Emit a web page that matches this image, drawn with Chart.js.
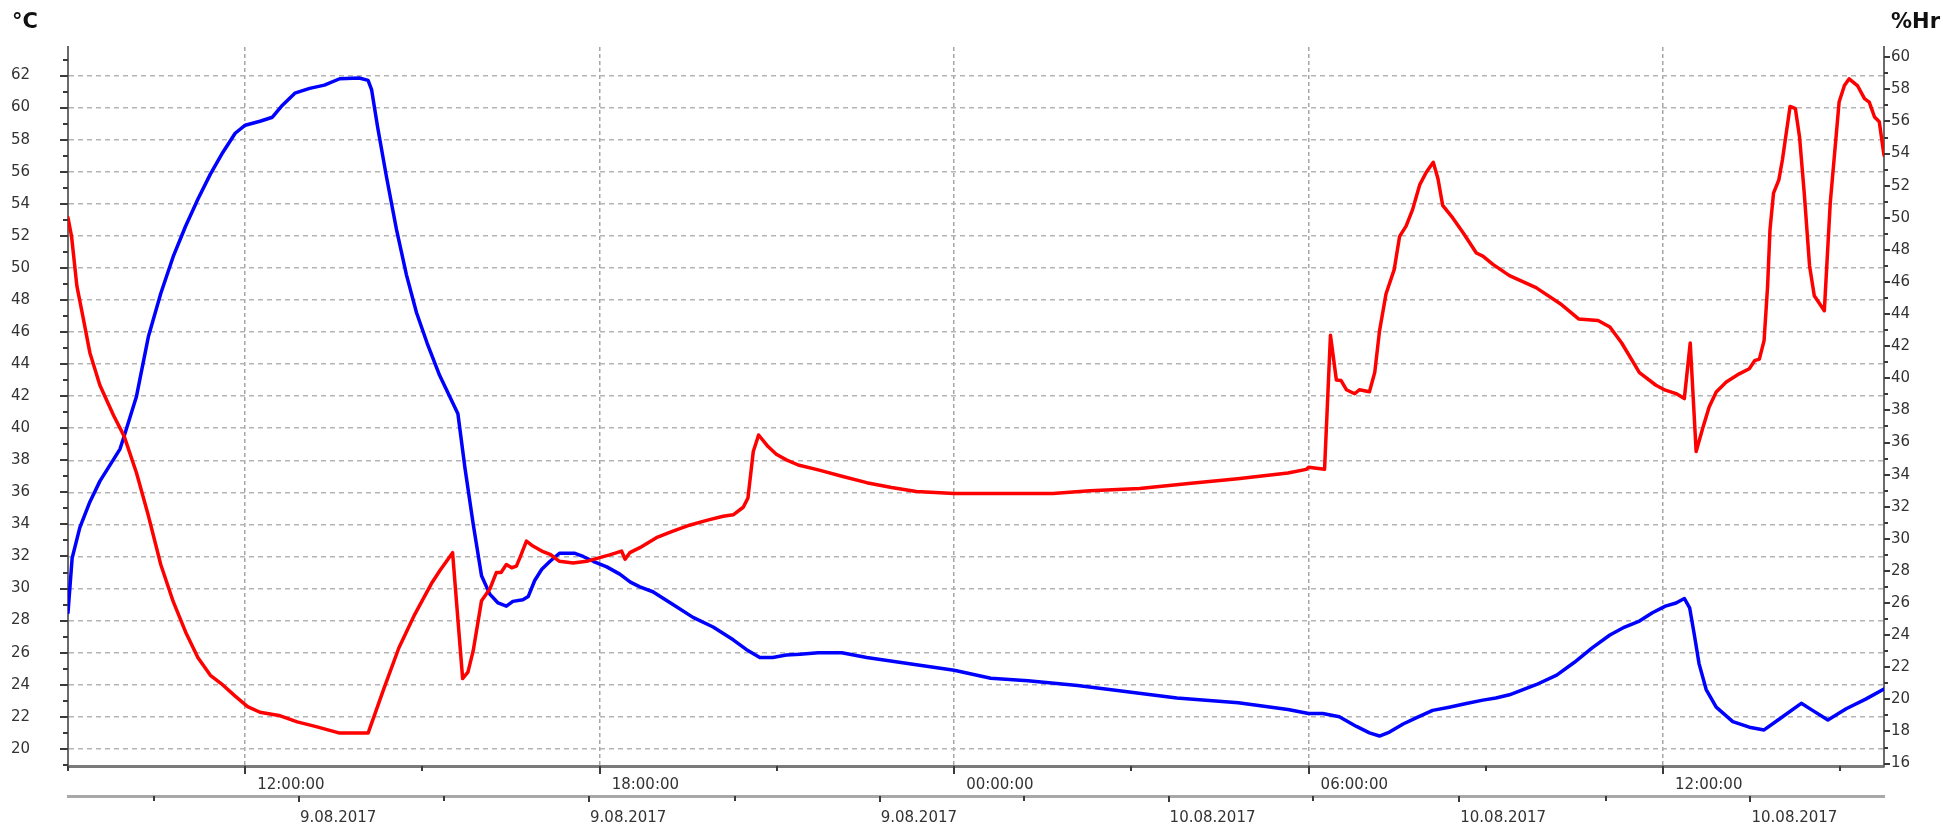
<!DOCTYPE html>
<html><head><meta charset="utf-8">
<script src="https://cdn.jsdelivr.net/npm/chart.js@4.4.1/dist/chart.umd.min.js"></script>
<style>html,body{margin:0;padding:0;background:#fff;overflow:hidden}canvas{display:block}</style>
</head><body>
<canvas id="c" width="1943" height="825"></canvas>
<script>
// Time in hours since 9.08.2017 00:00
const tempHours = [9.0,9.07,9.2,9.37,9.54,9.71,9.88,9.95,10.16,10.36,10.57,10.78,10.99,11.2,11.41,11.62,11.83,12.0,12.25,12.46,12.63,12.84,13.09,13.34,13.6,13.93,14.08,14.14,14.24,14.39,14.56,14.73,14.9,15.08,15.29,15.6,15.72,15.86,16.0,16.14,16.28,16.42,16.53,16.7,16.79,16.9,17.02,17.16,17.32,17.58,17.72,17.89,18.12,18.34,18.52,18.68,18.9,19.24,19.58,19.92,20.26,20.48,20.71,20.93,21.16,21.39,21.7,22.1,22.52,23.36,24.0,24.62,25.25,26.09,26.93,27.77,28.81,29.65,30.0,30.24,30.52,30.81,31.03,31.2,31.37,31.6,31.82,32.1,32.38,32.67,32.95,33.17,33.4,33.85,34.2,34.5,34.8,35.1,35.35,35.6,35.82,36.04,36.22,36.36,36.45,36.53,36.61,36.73,36.9,37.18,37.46,37.71,37.97,38.34,38.53,38.79,39.1,39.43,39.74];
const tempValues = [28.5,31.9,33.8,35.4,36.7,37.7,38.7,39.5,42.0,45.7,48.4,50.7,52.6,54.3,55.85,57.2,58.4,58.9,59.15,59.4,60.15,60.9,61.2,61.4,61.8,61.85,61.7,61.1,58.8,55.7,52.4,49.55,47.2,45.3,43.3,40.9,37.5,34.0,30.8,29.65,29.1,28.9,29.2,29.3,29.5,30.5,31.2,31.7,32.2,32.2,32.0,31.7,31.35,30.9,30.4,30.1,29.8,29.0,28.2,27.6,26.8,26.2,25.7,25.7,25.85,25.9,26.0,26.0,25.7,25.25,24.9,24.4,24.25,23.95,23.56,23.17,22.87,22.45,22.2,22.2,22.0,21.4,21.0,20.8,21.05,21.55,21.93,22.4,22.6,22.83,23.04,23.17,23.37,24.0,24.6,25.4,26.3,27.1,27.6,27.97,28.49,28.9,29.1,29.38,28.8,27.1,25.3,23.7,22.6,21.7,21.35,21.18,21.86,22.84,22.4,21.8,22.5,23.1,23.73];
const humHours = [9.0,9.06,9.15,9.26,9.37,9.54,9.77,9.95,10.16,10.36,10.57,10.78,10.99,11.2,11.41,11.62,11.83,12.04,12.25,12.57,12.88,13.2,13.4,13.6,14.08,14.35,14.6,14.87,15.15,15.29,15.51,15.68,15.77,15.86,16.0,16.14,16.25,16.33,16.42,16.51,16.59,16.65,16.76,16.87,17.02,17.16,17.32,17.55,17.78,18.0,18.17,18.37,18.43,18.51,18.68,18.96,19.24,19.52,19.81,20.09,20.26,20.43,20.51,20.6,20.69,20.85,20.99,21.16,21.36,21.7,22.1,22.52,22.94,23.36,24.0,25.67,26.3,27.14,27.97,28.8,29.65,29.96,30.0,30.27,30.37,30.47,30.55,30.64,30.78,30.86,31.03,31.12,31.2,31.31,31.45,31.54,31.65,31.76,31.88,31.99,32.11,32.19,32.27,32.44,32.61,32.84,32.95,33.12,33.4,33.85,34.26,34.57,34.9,35.1,35.3,35.6,35.88,36.04,36.22,36.36,36.46,36.56,36.67,36.78,36.9,37.07,37.29,37.46,37.55,37.63,37.71,37.77,37.81,37.87,37.96,38.02,38.15,38.24,38.31,38.39,38.48,38.56,38.73,38.83,38.98,39.07,39.15,39.29,39.41,39.49,39.58,39.66,39.74];
const humValues = [50.0,48.85,45.76,43.7,41.6,39.57,37.7,36.4,34.1,31.45,28.4,26.1,24.2,22.6,21.5,20.9,20.2,19.55,19.2,19.0,18.6,18.3,18.1,17.9,17.9,20.7,23.2,25.3,27.2,28.0,29.14,21.3,21.7,23.05,26.15,26.87,27.9,27.9,28.4,28.2,28.3,28.83,29.86,29.55,29.24,29.04,28.6,28.5,28.6,28.83,29.0,29.24,28.73,29.14,29.45,30.07,30.48,30.85,31.15,31.41,31.5,31.97,32.55,35.44,36.47,35.75,35.27,34.92,34.6,34.3,33.9,33.5,33.2,32.95,32.83,32.83,33.0,33.14,33.45,33.75,34.1,34.33,34.46,34.33,42.68,39.9,39.86,39.29,39.04,39.29,39.16,40.37,42.94,45.25,46.79,48.84,49.48,50.51,52.05,52.82,53.46,52.43,50.77,49.99,49.1,47.81,47.61,47.1,46.4,45.65,44.65,43.7,43.6,43.2,42.2,40.35,39.57,39.26,39.05,38.74,42.2,35.44,36.88,38.22,39.15,39.77,40.28,40.6,41.1,41.2,42.35,45.76,49.26,51.54,52.36,53.6,56.94,56.8,55.05,51.54,47.0,45.14,44.21,50.92,57.21,58.24,58.66,58.24,57.42,57.21,56.28,55.98,53.9];
const timeTickHours = [9,12,15,18,21,24,27,30,33,36,39];
const dateTickHours = [12.91,17.82,22.74,27.63,32.55,37.48];
const dateMinorHours = [10.46,15.36,20.29,25.18,30.08,35.04];
const dateTickLabels = ['9.08.2017','9.08.2017','9.08.2017','10.08.2017','10.08.2017','10.08.2017'];
const tempTickValues = Array.from({length: 45}, (_, i) => 19 + i);   // 19..63
const humTickValues = Array.from({length: 45}, (_, i) => 16 + i);    // 16..60
const tempTitle = '°C';
const humTitle = '%Hr';

const X_MIN = 9, X_MAX = 39.74;
const FONT = 'DejaVu Sans';

const tickMarks = {
  id: 'tickMarks',
  afterDraw(chart) {
    const {ctx, scales} = chart;
    ctx.save();
    ctx.lineWidth = 2;
    ctx.strokeStyle = '#3a3a3a';
    const seg = (x1, y1, x2, y2) => { ctx.beginPath(); ctx.moveTo(x1, y1); ctx.lineTo(x2, y2); ctx.stroke(); };
    const y = scales.y, y2 = scales.y2, x = scales.x, x2 = scales.x2;
    y.ticks.forEach(t => { const p = Math.round(y.getPixelForValue(t.value)); const L = t.value % 2 === 0 ? 8 : 5; seg(y.right - L, p, y.right, p); });
    y2.ticks.forEach(t => { const p = Math.round(y2.getPixelForValue(t.value)); const L = t.value % 2 === 0 ? 6 : 4; seg(y2.left, p, y2.left + L, p); });
    x.ticks.forEach(t => { const p = Math.round(x.getPixelForValue(t.value)); const L = t.value % 6 === 0 ? 8 : 5; seg(p, x.top, p, x.top + L); });
    x2.ticks.forEach(t => { const p = Math.round(x2.getPixelForValue(t.value)); const L = dateTickHours.includes(t.value) ? 6 : 5; seg(p, x2.top, p, x2.top + L); });
    ctx.fillStyle = '#111';
    ctx.font = 'bold 21px "' + FONT + '"';
    ctx.textBaseline = 'alphabetic';
    ctx.textAlign = 'left';
    ctx.fillText(tempTitle, y.left + 12, 28);
    ctx.textAlign = 'right';
    ctx.fillText(humTitle, y2.right - 3, 28);
    ctx.restore();
  }
};

const pad2 = n => String(n).padStart(2, '0');

new Chart(document.getElementById('c'), {
  type: 'line',
  data: {
    datasets: [
      { label: humTitle, data: humHours.map((h, i) => ({x: h, y: humValues[i]})), xAxisID: 'x', yAxisID: 'y2',
        borderColor: '#ff0000', borderWidth: 3.5, pointRadius: 0, tension: 0, fill: false, borderJoinStyle: 'round', borderCapStyle: 'round' },
      { label: tempTitle, data: tempHours.map((h, i) => ({x: h, y: tempValues[i]})), xAxisID: 'x', yAxisID: 'y',
        borderColor: '#0000ff', borderWidth: 3.5, pointRadius: 0, tension: 0, fill: false, borderJoinStyle: 'round', borderCapStyle: 'round' }
    ]
  },
  options: {
    responsive: false,
    animation: false,
    devicePixelRatio: 1,
    layout: { padding: { top: 43, left: 0, right: 0, bottom: 0 } },
    plugins: { legend: { display: false }, tooltip: { enabled: false } },
    font: { family: FONT },
    scales: {
      x: {
        type: 'linear', position: 'bottom', min: X_MIN, max: X_MAX, weight: 0,
        afterBuildTicks: s => { s.ticks = timeTickHours.map(v => ({value: v})); },
        afterFit: s => { s.height = 30; },
        ticks: { autoSkip: false, maxRotation: 0, align: 'start', labelOffset: 12, padding: 10,
          color: '#333', font: { family: FONT, size: 15 },
          callback: v => v % 6 === 0 ? pad2(((v % 24) + 24) % 24) + ':00:00' : '' },
        grid: { drawTicks: false, lineWidth: 1.5,
          color: c => (c.tick && c.tick.value % 6 === 0) ? '#a6a6a6' : 'rgba(0,0,0,0)' },
        border: { display: true, color: '#7a7a7a', width: 3, dash: [4, 3] }
      },
      x2: {
        type: 'linear', position: 'bottom', min: X_MIN, max: X_MAX, weight: 1,
        afterBuildTicks: s => { s.ticks = dateMinorHours.concat(dateTickHours).sort((a, b) => a - b).map(v => ({value: v})); },
        afterFit: s => { s.height = 29; },
        ticks: { autoSkip: false, maxRotation: 0, align: 'start', labelOffset: 1, padding: 13,
          color: '#333', font: { family: FONT, size: 15 },
          callback: v => { const i = dateTickHours.indexOf(v); return i >= 0 ? dateTickLabels[i] : ''; } },
        grid: { display: false, drawTicks: false },
        border: { display: true, color: '#a8a8a8', width: 3 }
      },
      y: {
        type: 'linear', position: 'left', min: 18.93, max: 63.78,
        afterBuildTicks: s => { s.ticks = tempTickValues.map(v => ({value: v})); },
        afterFit: s => { s.width = 68; },
        ticks: { autoSkip: false, padding: 38, color: '#333', font: { family: FONT, size: 15 },
          callback: v => v % 2 === 0 ? String(v) : '' },
        grid: { drawTicks: false, lineWidth: 1.5,
          color: c => (c.tick && c.tick.value % 2 === 0) ? '#b4b4b4' : 'rgba(0,0,0,0)' },
        border: { display: true, color: '#6a6a6a', width: 2, dash: [5, 4] }
      },
      y2: {
        type: 'linear', position: 'right', min: 15.85, max: 60.64,
        afterBuildTicks: s => { s.ticks = humTickValues.map(v => ({value: v})); },
        afterFit: s => { s.width = 59; },
        ticks: { autoSkip: false, padding: 7, color: '#333', font: { family: FONT, size: 15 },
          callback: v => v % 2 === 0 ? String(v) : '' },
        grid: { display: false, drawTicks: false },
        border: { display: true, color: '#6a6a6a', width: 2 }
      }
    }
  },
  plugins: [tickMarks]
});
</script>
</body></html>
